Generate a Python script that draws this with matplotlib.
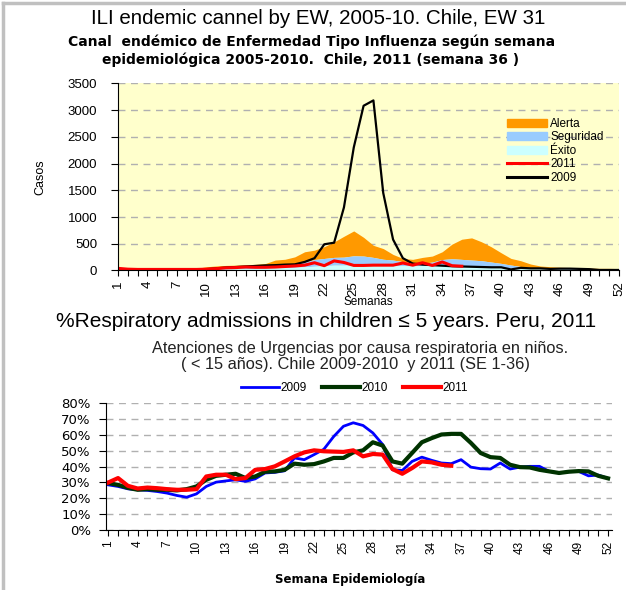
import matplotlib
matplotlib.use("Agg")
import matplotlib.pyplot as plt
from matplotlib.patches import Patch
from matplotlib.lines import Line2D
from matplotlib.ticker import FixedLocator, PercentFormatter

weeks = list(range(1, 53))
week_labels = list(range(1, 53, 3))

# canal endemico (upper limit of each zone), casos
exito = [10, 10, 10, 10, 10, 10, 10, 10, 10, 15,
         20, 25, 30, 35, 40, 45, 50, 55, 60, 70,
         80, 90, 100, 100, 100, 100, 100, 95, 90, 90,
         85, 90, 95, 100, 100, 95, 90, 80, 70, 60,
         50, 40, 35, 30, 25, 25, 20, 20, 20, 20,
         20, 20]
seguridad = [25, 20, 20, 20, 20, 20, 20, 25, 25, 30,
             40, 45, 50, 55, 60, 65, 70, 90, 115, 158,
             205, 225, 245, 250, 275, 270, 245, 210, 195, 165,
             135, 135, 158, 205, 220, 208, 195, 183, 158, 133,
             102, 75, 55, 45, 40, 40, 35, 35, 30, 30,
             30, 30]
alerta = [40, 30, 30, 30, 30, 30, 30, 35, 40, 70,
          85, 95, 100, 105, 115, 130, 195, 210, 255, 350,
          380, 445, 535, 640, 740, 620, 470, 410, 300, 225,
          208, 245, 270, 350, 493, 585, 610, 537, 443, 332,
          226, 183, 121, 84, 71, 60, 55, 50, 45, 40,
          40, 35]
casos_2009 = [30, 20, 15, 15, 15, 15, 15, 20, 20, 25,
              40, 55, 65, 75, 85, 95, 100, 110, 115, 160,
              230, 490, 520, 1180, 2300, 3080, 3180, 1450, 580, 230,
              130, 110, 100, 90, 80, 75, 70, 65, 60, 60,
              20, 50, 40, 40, 30, 35, 35, 30, 25, 10,
              10, 10]
casos_2011 = [40, 25, 20, 20, 20, 20, 20, 20, 20, 25,
              35, 50, 55, 65, 60, 60, 65, 75, 85, 100,
              145, 90, 180, 150, 95, 95, 100, 100, 100, 140,
              100, 145, 95, 160, 90, 80]

# atenciones de urgencia respiratoria, %
pct_2009 = [28.5, 27.5, 26, 25.4, 25, 24.3, 23.3, 21.8, 20.7, 22.8,
            27.5, 30.2, 31, 31.7, 30.7, 32.3, 36, 36.4, 37.4, 45.5,
            44.4, 47.6, 51, 59, 65.5, 67.7, 66, 61.3, 54, 38,
            37.6, 43.3, 46, 44, 42.3, 41.9, 44.4, 39.7, 38.7, 38.5,
            42.3, 38.5, 39.7, 40.2, 40.2, 37, 36, 36.8, 37, 34.2,
            34.7, 32.6]
pct_2010 = [29.6, 28.5, 26.6, 25.4, 25.8, 25.4, 25.4, 25, 25.8, 27.5,
            31.7, 34.2, 34.9, 35.5, 32.8, 33.8, 36.8, 37, 38, 41.9,
            41.2, 41.6, 43.3, 45.5, 45.5, 49, 50.3, 55.4, 53.3, 43.3,
            41.9, 48.6, 55.4, 58, 60.3, 60.7, 60.7, 55, 48.6, 46,
            45.5, 41.2, 39.7, 39.5, 38, 37, 36, 36.8, 37.2, 37,
            34.2, 32.6]
pct_2011 = [30, 32.8, 27.9, 26.2, 26.8, 26.4, 25.8, 25.4, 25.4, 25.8,
            33.8, 34.9, 34.9, 32.1, 32.8, 38, 38.5, 40.2, 43.3, 46.5,
            49, 50.3, 49.7, 49.5, 49.3, 50.3, 46.5, 48, 47.6, 38.5,
            35.5, 39.1, 43.3, 42.7, 41.2, 40.6]

W, H = 626, 590
fig = plt.figure(figsize=(W / 100, H / 100), dpi=100)
fig.patch.set_facecolor("white")

def fx(px):
    return px / W

def fy(py):
    return 1 - py / H

# grey frame on left and top
fig.add_artist(Line2D([fx(3), fx(3)], [0, fy(3)], color="#c0c0c0", lw=2.5))
fig.add_artist(Line2D([fx(3), 1], [fy(3), fy(3)], color="#c0c0c0", lw=2.5))

arial = "Liberation Sans"
verdana = "DejaVu Sans"

# ---- titles
fig.text(fx(318), fy(18), "ILI endemic cannel by EW, 2005-10. Chile, EW 31",
         family=arial, fontsize=14.8, ha="center", va="center")
fig.text(fx(312), fy(42), "Canal  endémico de Enfermedad Tipo Influenza según semana",
         family=verdana, fontweight="bold", fontsize=10, ha="center", va="center")
fig.text(fx(311), fy(60), "epidemiológica 2005-2010.  Chile, 2011 (semana 36 )",
         family=verdana, fontweight="bold", fontsize=10, ha="center", va="center")

# ---- top chart
ax1 = fig.add_axes([fx(118), fy(270.5), fx(619 - 118), (270.5 - 83.3) / H])
ax1.set_facecolor("#FFFFCC")
ax1.fill_between(weeks, seguridad, alerta, color="#FF9900", lw=0)
ax1.fill_between(weeks, exito, seguridad, color="#99CCFF", lw=0)
ax1.fill_between(weeks, 0, exito, color="#CCFFFF", lw=0)
ax1.plot(weeks, casos_2009, color="black", lw=1.6)
ax1.plot(weeks[:len(casos_2011)], casos_2011, color="#FF0000", lw=2.2)
ax1.set_xlim(1, 52)
ax1.set_ylim(0, 3500)
ax1.set_yticks(range(0, 3501, 500))
ax1.yaxis.grid(True, color="#b0b0b0", ls=(0, (5, 4)), lw=1)
ax1.set_axisbelow(True)
ax1.set_xticks(week_labels)
ax1.xaxis.set_minor_locator(FixedLocator(weeks))
ax1.tick_params(axis="x", which="both", length=4, width=0.8, direction="out")
ax1.tick_params(axis="y", length=5, width=0.8, pad=10)
ax1.tick_params(labelsize=9.5)
for lab in ax1.get_xticklabels():
    lab.set_rotation(90)
    lab.set_family(arial)
for lab in ax1.get_yticklabels():
    lab.set_family(arial)
for s in ["top", "right"]:
    ax1.spines[s].set_visible(False)
ax1.set_ylabel("Casos", family=arial, fontsize=9)
ax1.yaxis.set_label_coords(-0.142, 0.5)
ax1.set_xlabel("Semanas", family=arial, fontsize=8.5, labelpad=0)

handles1 = [Patch(color="#FF9900"), Patch(color="#99CCFF"), Patch(color="#CCFFFF"),
            Line2D([], [], color="#FF0000", lw=2.2), Line2D([], [], color="black", lw=2.2)]
leg1 = ax1.legend(handles1, ["Alerta", "Seguridad", "Éxito", "2011", "2009"],
                  loc="upper left", bbox_to_anchor=(fx(507), fy(118)),
                  bbox_transform=fig.transFigure, frameon=False,
                  prop={"family": arial, "size": 8.5}, handlelength=3.4,
                  handleheight=0.7, handletextpad=0.25, labelspacing=0.12,
                  borderaxespad=0, borderpad=0)

# ---- second titles
fig.text(fx(326), fy(322), "%Respiratory admissions in children ≤ 5 years. Peru, 2011",
         family=arial, fontsize=15, ha="center", va="center")
fig.text(fx(360), fy(348), "Atenciones de Urgencias por causa respiratoria en niños.",
         family=arial, fontsize=11.8, ha="center", va="center", color="#222222")
fig.text(fx(355), fy(364), "( < 15 años). Chile 2009-2010  y 2011 (SE 1-36)",
         family=arial, fontsize=11.8, ha="center", va="center", color="#222222")

# ---- bottom chart
ax2 = fig.add_axes([fx(106), fy(530), fx(611.7 - 106), (530 - 403.3) / H])
l09, = ax2.plot(weeks, pct_2009, color="#0000FF", lw=2)
l10, = ax2.plot(weeks, pct_2010, color="#003300", lw=3)
l11, = ax2.plot(weeks[:len(pct_2011)], pct_2011, color="#FF0000", lw=3)
ax2.set_xlim(0.77, 52.37)
ax2.set_ylim(0, 80)
ax2.set_yticks(range(0, 81, 10))
ax2.yaxis.set_major_formatter(PercentFormatter(decimals=0))
ax2.yaxis.grid(True, color="#b0b0b0", ls=(0, (5, 4)), lw=1)
ax2.set_axisbelow(True)
ax2.set_xticks(week_labels)
ax2.xaxis.set_minor_locator(FixedLocator(weeks))
ax2.tick_params(axis="x", which="both", length=4, width=0.8)
ax2.tick_params(axis="y", length=5, width=0.8, pad=6)
ax2.tick_params(axis="x", labelsize=8.5)
ax2.tick_params(axis="y", labelsize=9.5)
for lab in ax2.get_xticklabels():
    lab.set_rotation(90)
    lab.set_family(arial)
for lab in ax2.get_yticklabels():
    lab.set_family(verdana)
for s in ["top", "right"]:
    ax2.spines[s].set_visible(False)
ax2.set_xlabel("Semana Epidemiología", family=verdana, fontweight="bold",
               fontsize=8.5)
ax2.xaxis.set_label_coords(fx(350 - 106) / fx(611.7 - 106), -0.34)

ax2.legend([l09, l10, l11], ["2009", "2010", "2011"], loc="center",
           bbox_to_anchor=(fx(354.5), fy(388)), bbox_transform=fig.transFigure,
           ncol=3, frameon=False, prop={"family": arial, "size": 8.5},
           handlelength=3.2, handletextpad=0.1, columnspacing=1.35,
           borderpad=0, borderaxespad=0)

fig.savefig("out.png", dpi=100)
